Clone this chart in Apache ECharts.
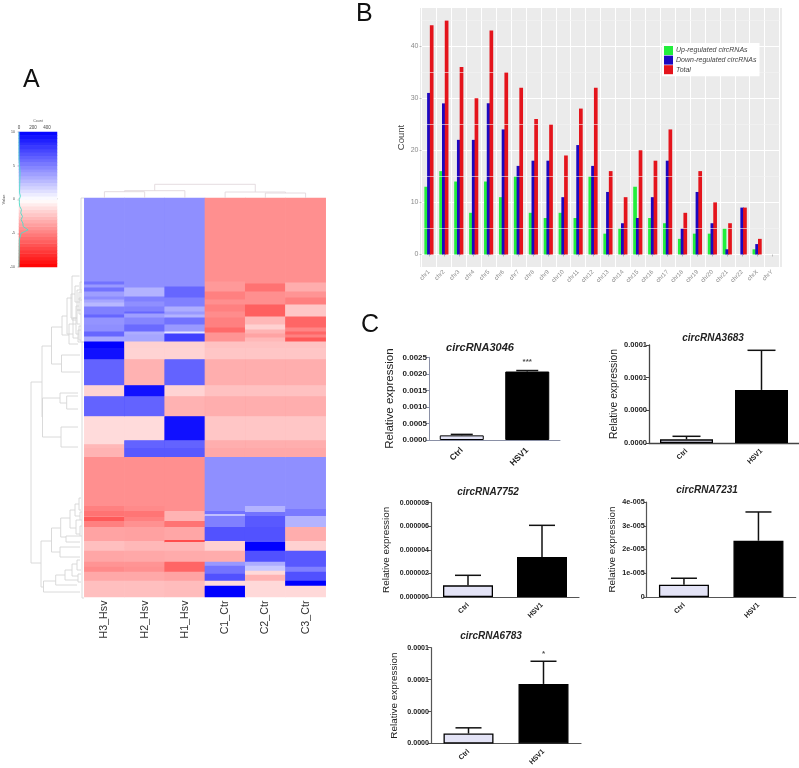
<!DOCTYPE html>
<html><head><meta charset="utf-8">
<style>html,body{margin:0;padding:0;background:#fff}#c{width:799px;height:768px}</style>
<script src="https://cdn.jsdelivr.net/npm/echarts@6/dist/echarts.min.js"></script>
</head><body><div id="c"></div>
<script>
// ---------- Panel B ----------
const chromosomes = ['chr1','chr2','chr3','chr4','chr5','chr6','chr7','chr8','chr9','chr10','chr11','chr12','chr13','chr14','chr15','chr16','chr17','chr18','chr19','chr20','chr21','chr22','chrX','chrY'];
const upCounts    = [13,16,14,8,14,11,15,8,7,8,7,15,4,5,13,7,6,3,4,4,5,0,1,0];
const downCounts  = [31,29,22,22,29,24,17,18,18,11,21,17,12,6,7,11,18,5,12,6,1,9,2,0];
const totalCounts = [44,45,36,30,43,35,32,26,25,19,28,32,16,11,20,18,24,8,16,10,6,9,3,0];
const countTicks = [0,10,20,30,40];
const countMinorTicks = [5,15,25,35,45];

// ---------- Panel A: heatmap, each column as [last row, value] runs ----------
const sampleNames = ['H3_Hsv','H2_Hsv','H1_Hsv','C1_Ctr','C2_Ctr','C3_Ctr'];
const runsH3 = [[84,4.4],[87,5.5],[90,4],[94,5.5],[99,3.8],[102,4.5],[105,3.5],[109,2.8],[117,5],[120,6],[127,4.2],[134,4.4],[139,6],[144,3.4],[162,10],[188,6.5],[199,-1.8],[219,6.5],[247,-1.5],[260,-3],[309,-4.4],[314,-5],[319,-5.5],[320,-4.8],[324,-6.5],[330,-5],[344,-3.6],[354,-2.5],[365,-3.5],[370,-4.2],[375,-4.6],[384,-3.4],[400,-2.5]];
const runsH2 = [[90,4.4],[99,3],[104,5],[109,4.4],[114,5],[116,6],[120,3.8],[127,4.8],[134,5.8],[137,3.2],[144,3.5],[162,-1.8],[188,-3.2],[199,10],[219,6.5],[243,-1.5],[260,6.5],[309,-4.4],[314,-4.6],[320,-5.4],[324,-5],[330,-4.3],[344,-3.7],[354,-2.8],[365,-3.4],[370,-4.2],[375,-4.3],[384,-3.4],[400,-2.5]];
const runsH1 = [[89,4.4],[100,6],[109,5],[114,3.2],[117,4],[120,3],[127,5.5],[134,4],[136,1],[144,7.5],[162,-1.8],[188,6.5],[199,-1.8],[219,-3.2],[243,10],[260,6.5],[314,-4.4],[324,-3],[330,-5.5],[343,-3.5],[345,-7],[354,-2.8],[365,-3.3],[375,-6],[384,-3.6],[400,-2.6]];
const runsC1 = [[84,-4.4],[94,-4],[102,-5],[107,-4.4],[114,-5],[120,-4.5],[130,-5],[135,-5.8],[144,-4.2],[162,-2.4],[188,-3.4],[199,-2.6],[219,-3.4],[243,-2.4],[260,-3.4],[314,4.4],[317,5.5],[319,2.5],[330,5],[344,6.8],[354,-1.8],[365,-3.2],[369,4],[377,5.5],[384,6.8],[389,-1.4],[400,10]];
const runsC2 = [[86,-4.4],[94,-5.5],[107,-4.4],[119,-6.2],[127,-2.8],[132,-1.8],[136,-3],[140,-3.6],[144,-2.8],[162,-2.4],[188,-3.4],[199,-2.6],[219,-3.4],[243,-2.4],[260,-3.4],[309,4.4],[315,3],[319,5.5],[330,6.5],[345,6.8],[354,10],[365,6.8],[369,3.2],[374,2.2],[378,-1.5],[384,-3],[400,-1.5]];
const runsC3 = [[85,-4.4],[94,-3.2],[100,-4.2],[107,-5],[119,-2.2],[130,-6],[134,-4.8],[137,-6],[140,-5],[144,-6.5],[162,-2.4],[188,-3.4],[199,-2.6],[219,-3.4],[243,-2.4],[260,-3.4],[312,4.4],[319,5.2],[330,3],[344,-3.2],[354,-1.8],[370,6.5],[375,5],[384,6.8],[389,10],[400,-1.5]];
const columnRuns = [runsH3,runsH2,runsH1,runsC1,runsC2,runsC3];

// Row dendrogram merges: [height, top row, bottom row, top child height, bottom child height]
const rowMerges = [
 [53,184,365,42,43],[42,148,219,32.5,41.5],[32.5,129,166,22,22.5],[22.5,157,174,4,4],
 [41.5,200,239,24,23],[24,195,205,6,17.3],[17.3,198,211,6,6],[23,229,249,6,6],
 [43,343,389,32.5,40.5],[32.5,330,354,23.3,24],[23.3,320,339,14,18],[18,338,344,4,4],[24,349,359,4,4],
 [40.5,383,394,28.3,4],[28.3,377,387,19,7],[19,372,382,12,6],
 [22,118,137,17,15],[17,100,136,12,11],[15,126,146,8,6],[12,78,122,4.5,8],[8,108,136,5,5],[5,100,116,3,3],[5,128,142,3,3],
 [11,120,140,7,6],[7,112,126,4,4],[6,132,144,3,3],[9,88,104,5,4],[4,84,92,2,2],[5,94,102,2,2],[7,92,112,4,3],[13,96,120,9,7],
 [14,312,330,9,8],[9,306,318,5,4],[8,322,336,4,4],[5,300,312,3,3],[4,314,322,2,2],[4,328,338,2,2],
 [12,366,378,7,6],[7,362,372,4,3],[6,376,384,3,3],
 [3,0,144,0,0],[2,144,400,0,0]
];
// Column dendrogram merges: [height, left pos, right pos, left child height, right child height]
const colMerges = [[6.3,0.5,1.5,0,0],[7.3,1,2.5,6.3,0],[5,4.5,5.5,0,0],[6,3.5,5,0,5],[13.7,1.75,4.25,7.3,6]];

// Colour key bands, bottom to top
const keyLevels = [-9.75,-9.25,-8.75,-8.25,-7.75,-7.25,-6.75,-6.25,-5.75,-5.25,-4.75,-4.25,-3.75,-3.25,-2.75,-2.25,-1.75,-1.25,-0.75,-0.25,0.25,0.75,1.25,1.75,2.25,2.75,3.25,3.75,4.25,4.75,5.25,5.75,6.25,6.75,7.25,7.75,8.25,8.75,9.25,9.75];
// Colour key histogram: [count, value]
const keyHistogram = [[0,10],[0,6],[8,5],[15,4],[12,3],[10,2],[8,1],[20,0.5],[5,0],[5,-0.5],[10,-1],[35,-1.5],[25,-2],[50,-2.5],[30,-3],[55,-3.5],[60,-4],[130,-4.5],[30,-5],[5,-6],[0,-10]];

// ---------- Panel C ----------
const groupNames = ['Ctrl','HSV1'];
const means3046 = [0.00014,0.00207], tops3046 = [0.00017,0.00210];
const means3683 = [0.0000045,0.000065], tops3683 = [0.0000082,0.0001135];
const means7752 = [0.00000099,0.00000339], tops7752 = [0.00000184,0.00000608];
const means7231 = [0.0000052,0.0000237], tops7231 = [0.0000079,0.0000358];
const means6783 = [0.0000125,0.0000746], tops6783 = [0.0000196,0.000103];

const F = 'Liberation Sans';
const grid = [], xAxis = [], yAxis = [], series = [], title = [];
const gi = g => { grid.push(g); return grid.length - 1; };

// ---- panel letters
[['A',23,68],['B',356,2],['C',361,313]].forEach(([t,l,tp]) =>
  title.push({text:t,left:l,top:tp,padding:0,textStyle:{fontFamily:F,fontSize:25,fontWeight:'normal',color:'#111'}}));

// ---- Panel B
const gb = gi({left:421.5,top:8,width:358,height:259});
xAxis.push({gridIndex:gb,type:'category',data:chromosomes,
  axisLine:{show:false},axisTick:{show:true,alignWithLabel:true,length:2,lineStyle:{color:'#999',width:.6}},
  splitLine:{show:true,lineStyle:{color:'#fff',width:1}},
  axisLabel:{interval:0,rotate:45,fontSize:6,margin:4,color:'#8a8a8a',fontFamily:F}});
yAxis.push({gridIndex:gb,type:'value',min:-2.4,max:47.3,
  name:'Count',nameLocation:'middle',nameGap:8,nameTextStyle:{fontSize:9.5,color:'#444',fontFamily:F},
  axisLine:{show:false},axisTick:{show:true,length:2,customValues:countTicks,lineStyle:{color:'#999',width:.6}},
  axisLabel:{customValues:countTicks,fontSize:7,margin:3,color:'#8a8a8a',fontFamily:F},
  splitLine:{show:true,lineStyle:{color:'#fff',width:1}}});
const bIdx = xAxis.length - 1;
const barCommon = {type:'bar',xAxisIndex:bIdx,yAxisIndex:bIdx,barWidth:3.7,barGap:'-26%',z:3};
series.push({...barCommon,name:'Up-regulated circRNAs',data:upCounts,itemStyle:{color:'#22ee3c'},
  markLine:{silent:true,symbol:'none',label:{show:false},animation:false,lineStyle:{color:'#f4f4f4',width:.6,type:'solid'},data:countMinorTicks.map(v=>({yAxis:v}))}});
series.push({...barCommon,name:'Down-regulated circRNAs',data:downCounts,itemStyle:{color:'#1c08c0'}});
series.push({...barCommon,name:'Total',data:totalCounts,itemStyle:{color:'#e4141c'}});

// ---- Panel A heatmap
const rowNames = Array.from({length:400},(_,i)=>i);
const heatData = [];
columnRuns.forEach((runs,c)=>{ let r=0; runs.forEach(([end,v])=>{ for(;r<end;r++) heatData.push([c,r,v]); }); });
const gh = gi({left:84.3,top:198,width:241.4,height:399});
xAxis.push({gridIndex:gh,type:'category',data:sampleNames,axisLine:{show:false},axisTick:{show:false},splitLine:{show:false},
  axisLabel:{interval:0,rotate:90,fontSize:10.7,margin:3.5,color:'#333',fontFamily:F}});
yAxis.push({gridIndex:gh,type:'category',data:rowNames,inverse:true,show:false});
const hIdx = xAxis.length-1;
const heatSeriesIndex = series.length;
series.push({type:'heatmap',xAxisIndex:hIdx,yAxisIndex:hIdx,data:heatData,progressive:0,itemStyle:{borderWidth:0},emphasis:{disabled:true},z:2});

// ---- Row dendrogram
const dendroColor = '#d6d6d6';
const gd = gi({left:27,top:198,width:57,height:400});
xAxis.push({gridIndex:gd,type:'value',min:0,max:57,inverse:true,show:false,splitLine:{show:false}});
yAxis.push({gridIndex:gd,type:'value',min:0,max:400,inverse:true,show:false,splitLine:{show:false}});
series.push({type:'custom',xAxisIndex:xAxis.length-1,yAxisIndex:xAxis.length-1,silent:true,clip:false,data:rowMerges,z:2,
  encode:{x:0,y:1},
  renderItem:(p,api)=>{const h=api.value(0),a=api.value(1),b=api.value(2),ha=api.value(3),hb=api.value(4);
    return {type:'polyline',shape:{points:[api.coord([ha,a]),api.coord([h,a]),api.coord([h,b]),api.coord([hb,b])]},style:{stroke:dendroColor,lineWidth:.9,fill:null}};}});

// ---- Column dendrogram
const gt = gi({left:84.3,top:178,width:241.4,height:20});
xAxis.push({gridIndex:gt,type:'value',min:0,max:6,show:false,splitLine:{show:false}});
yAxis.push({gridIndex:gt,type:'value',min:0,max:20,show:false,splitLine:{show:false}});
series.push({type:'custom',xAxisIndex:xAxis.length-1,yAxisIndex:xAxis.length-1,silent:true,data:colMerges,z:2,
  encode:{x:1,y:0},
  renderItem:(p,api)=>{const h=api.value(0),a=api.value(1),b=api.value(2),ha=api.value(3),hb=api.value(4);
    return {type:'polyline',shape:{points:[api.coord([a,ha]),api.coord([a,h]),api.coord([b,h]),api.coord([b,hb])]},style:{stroke:'#e2d8dc',lineWidth:.9,fill:null}};}});

// ---- Colour key bands
const gkb = gi({left:19,top:132,width:38,height:135});
xAxis.push({gridIndex:gkb,type:'category',data:['key'],show:false});
yAxis.push({gridIndex:gkb,type:'category',data:keyLevels.map(String),show:false});
const keySeriesIndex = series.length;
series.push({type:'heatmap',xAxisIndex:xAxis.length-1,yAxisIndex:xAxis.length-1,data:keyLevels.map((v,i)=>[0,i,v]),progressive:0,silent:true,itemStyle:{borderWidth:0},emphasis:{disabled:true},z:1});

// ---- Colour key axes + histogram
const gk = gi({left:19,top:132,width:38,height:135});
xAxis.push({gridIndex:gk,type:'value',min:0,max:543,interval:100,position:'top',
  name:'Count',nameLocation:'middle',nameGap:9,nameTextStyle:{fontSize:3.5,color:'#555',fontFamily:F},
  axisLine:{show:false},axisTick:{show:true,length:1.5,lineStyle:{color:'#666',width:.4}},splitLine:{show:false},
  axisLabel:{fontSize:4.5,margin:2,color:'#444',fontFamily:F,formatter:v=>(v%200===0?String(v):'')}});
yAxis.push({gridIndex:gk,type:'value',min:-10,max:10,interval:5,
  name:'Value',nameLocation:'middle',nameGap:13,nameTextStyle:{fontSize:4,color:'#555',fontFamily:F},
  axisLine:{show:false},axisTick:{show:true,length:1.5,lineStyle:{color:'#666',width:.4}},splitLine:{show:false},
  axisLabel:{fontSize:3.5,margin:4,color:'#444',fontFamily:F}});
series.push({type:'line',xAxisIndex:xAxis.length-1,yAxisIndex:xAxis.length-1,data:keyHistogram,showSymbol:false,silent:true,z:5,
  lineStyle:{color:'#4fdcc8',width:.9}});

// ---- Panel C
function barPanel(o){
  const g = gi({left:o.left,top:o.top,width:o.width,height:o.height});
  xAxis.push({gridIndex:g,type:'category',data:groupNames,
    axisLine:{lineStyle:{color:o.axisColor,width:o.axisWidth}},axisTick:{alignWithLabel:true,length:3,lineStyle:{color:o.axisColor,width:1}},splitLine:{show:false},
    axisLabel:{interval:0,rotate:45,fontSize:o.catSize,fontWeight:'bold',margin:o.catMargin||7,color:'#222',fontFamily:F}});
  yAxis.push({gridIndex:g,type:'value',min:0,max:o.max,interval:o.interval,
    name:'Relative expression',nameLocation:'middle',nameGap:o.nameGap,nameTextStyle:{fontSize:o.nameSize,color:'#222',fontFamily:F},
    axisLine:{show:true,lineStyle:{color:o.axisColor,width:o.axisWidth}},axisTick:{show:true,length:3,lineStyle:{color:o.axisColor,width:1}},splitLine:{show:false},
    axisLabel:{fontSize:o.labelSize,fontWeight:'bold',margin:2,color:'#222',fontFamily:F,formatter:o.fmt}});
  const i = xAxis.length-1;
  series.push({type:'bar',xAxisIndex:i,yAxisIndex:i,barWidth:o.barWidth,z:3,
    data:o.means.map((v,k)=>({value:v,itemStyle:k===0?{color:'#e3e3f6',borderColor:'#000',borderWidth:o.borderW}:{color:'#000',borderColor:'#000',borderWidth:o.borderW}}))});
  series.push({type:'custom',xAxisIndex:i,yAxisIndex:i,silent:true,z:2,clip:false,
    data:o.means.map((v,k)=>[k,v,o.tops[k]]),encode:{x:0,y:[1,2]},
    renderItem:(p,api)=>{const k=api.value(0),a=api.coord([k,api.value(1)]),b=api.coord([k,api.value(2)]);
      const cap=o.capHalf;
      return {type:'group',children:[
        {type:'line',shape:{x1:a[0],y1:a[1],x2:b[0],y2:b[1]},style:{stroke:'#111',lineWidth:1.5}},
        {type:'line',shape:{x1:b[0]-cap,y1:b[1],x2:b[0]+cap,y2:b[1]},style:{stroke:'#111',lineWidth:1.5}}]};}});
  if(o.star) series.push({type:'scatter',xAxisIndex:i,yAxisIndex:i,silent:true,symbolSize:1,itemStyle:{color:'transparent'},z:4,
    data:[[1,o.star[1]]],label:{show:true,position:'inside',formatter:o.star[0],fontSize:8,fontWeight:'bold',color:'#222',fontFamily:F}});
  title.push({text:o.title,left:o.tx,top:o.ty-7,padding:0,textAlign:'center',
    textStyle:{fontFamily:F,fontSize:o.titleSize,fontWeight:'bold',fontStyle:'italic',color:'#222'}});
}
const fix = d => v => v.toFixed(d);
barPanel({title:'circRNA3046',tx:480,ty:349,titleSize:11,left:429,top:357.3,width:131,height:82.7,max:0.0025,interval:0.0005,fmt:fix(4),labelSize:8,catSize:8.5,catMargin:9,nameSize:11.5,nameGap:33,barWidth:44,capHalf:11,means:means3046,tops:tops3046,axisColor:'#8a90a6',axisWidth:1,borderW:1,star:['***',0.00236]});
barPanel({title:'circRNA3683',tx:713,ty:340,titleSize:10,left:649,top:345,width:155,height:98,max:0.00012,interval:0.00004,fmt:fix(4),labelSize:7.5,catSize:7,nameSize:10.3,nameGap:30,barWidth:53,capHalf:14,means:means3683,tops:tops3683,axisColor:'#444',axisWidth:1.3,borderW:1.3});
barPanel({title:'circRNA7752',tx:488,ty:494,titleSize:10,left:431,top:502.7,width:148,height:94.3,max:0.000008,interval:0.000002,fmt:fix(6),labelSize:7,catSize:7,nameSize:9.9,nameGap:40,barWidth:50,capHalf:13,means:means7752,tops:tops7752,axisColor:'#555',axisWidth:1.2,borderW:1.3});
barPanel({title:'circRNA7231',tx:707,ty:492,titleSize:10,left:646.7,top:502,width:149,height:95,max:0.00004,interval:0.00001,fmt:v=>v===0?'0':Math.round(v*1e5)+'e-005',labelSize:7.2,catSize:7,nameSize:9.9,nameGap:29,barWidth:50,capHalf:13,means:means7231,tops:tops7231,axisColor:'#555',axisWidth:1.2,borderW:1.3});
barPanel({title:'circRNA6783',tx:491,ty:638,titleSize:10,left:431,top:647.7,width:150,height:96,max:0.00012,interval:0.00004,fmt:fix(4),labelSize:7.1,catSize:7,nameSize:9.9,nameGap:32,barWidth:50,capHalf:13,means:means6783,tops:tops6783,axisColor:'#555',axisWidth:1.2,borderW:1.3,star:['*',0.000112]});

const chart = echarts.init(document.getElementById('c'),null,{renderer:'canvas'});
chart.setOption({
  animation:false,backgroundColor:'#fff',
  title,grid,xAxis,yAxis,series,
  tooltip:{show:false},
  legend:{left:662,top:43,z:10,orient:'vertical',data:['Up-regulated circRNAs','Down-regulated circRNAs','Total'],
    itemWidth:9,itemHeight:9,itemGap:.6,padding:[3,3,2,2],backgroundColor:'#fff',icon:'rect',selectedMode:false,
    textStyle:{fontSize:7,fontStyle:'italic',color:'#444',fontFamily:F,padding:[0,0,0,-2]}},
  visualMap:{type:'continuous',show:false,min:-10,max:10,seriesIndex:[heatSeriesIndex,keySeriesIndex],
    inRange:{color:['#ff0000','#ffffff','#0000ff']}},
  graphic:{elements:[{type:'rect',z:-10,silent:true,shape:{x:420,y:8,width:362,height:259},style:{fill:'#ebebeb'}}]}
});
</script></body></html>
